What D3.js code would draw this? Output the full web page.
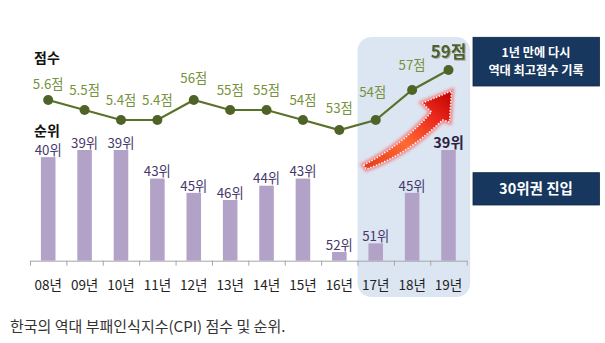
<!DOCTYPE html>
<html>
<head>
<meta charset="utf-8">
<script src="https://cdn.jsdelivr.net/npm/d3@7"></script>
<style>
  html, body { margin: 0; padding: 0; background: #fff; }
  svg { display: block; font-family: "Noto Sans CJK KR", "Noto Sans", sans-serif; }
</style>
</head>
<body>
<svg id="chart" width="605" height="343"></svg>
<script>
// Korea's Corruption Perceptions Index (CPI): score and world rank by year
const years = ["08년", "09년", "10년", "11년", "12년", "13년", "14년", "15년", "16년", "17년", "18년", "19년"];
// scores up to 2011 were published on a 10-point scale, from 2012 on a 100-point scale
const scores = [5.6, 5.5, 5.4, 5.4, 56, 55, 55, 54, 53, 54, 57, 59];
const ranks = [40, 39, 39, 43, 45, 46, 44, 43, 52, 51, 45, 39];
const note1 = ["1년 만에 다시", "역대 최고점수 기록"];
const note2 = "30위권 진입";
const caption = "한국의 역대 부패인식지수(CPI) 점수 및 순위.";

const svg = d3.select("#chart");
const defs = svg.append("defs");

const left = 30, right = 466.7, baseY = 260.7;
const n = years.length;

const x = d3.scaleBand().domain(years).range([left, right]).paddingInner(0.6).paddingOuter(0.3);
const cx = d => x(d) + x.bandwidth() / 2;
const cell = d3.scaleLinear().domain([0, n]).range([left, right]);

// better rank -> taller bar
const yRank = d3.scaleLinear().domain([53, 46, 39]).range([baseY, 200, 150]);
const score100 = v => (v < 10 ? v * 10 : v);
const yScore = d3.scaleLinear().domain([53, 59]).range([130, 70]);

// highlighted recent years
const hiStart = years.indexOf("17년");
svg.append("rect")
  .attr("x", cell(hiStart)).attr("y", 37)
  .attr("width", right - cell(hiStart) + 3.5).attr("height", 260)
  .attr("rx", 14).attr("fill", "#dce6f2");

// axis: boundary ticks
svg.append("g")
  .attr("transform", `translate(0,${baseY})`)
  .call(d3.axisBottom(cell).ticks(n).tickFormat("").tickSizeInner(5).tickSizeOuter(0))
  .call(g => g.selectAll("path, line").attr("stroke", "#a6a6a6"));

// year labels
svg.append("g")
  .attr("transform", `translate(0,${baseY})`)
  .call(d3.axisBottom(x).tickSize(0).tickPadding(20))
  .call(g => g.select(".domain").remove())
  .call(g => g.selectAll("text")
    .attr("font-family", "'Noto Sans CJK KR', sans-serif")
    .attr("font-size", 13.5).attr("fill", "#222"));

// rank bars
const data = years.map((y, i) => ({ year: y, score: scores[i], rank: ranks[i], i }));
svg.append("g").selectAll("rect").data(data).join("rect")
  .attr("x", d => x(d.year)).attr("width", x.bandwidth())
  .attr("y", d => yRank(d.rank)).attr("height", d => baseY - yRank(d.rank))
  .attr("fill", "#b3a2c7");

const last = n - 1;
svg.append("g").selectAll("text").data(data).join("text")
  .attr("x", d => cx(d.year))
  .attr("y", d => yRank(d.rank) - 7)
  .attr("dy", "0.35em")
  .attr("text-anchor", "middle")
  .attr("font-size", d => d.i === last ? 14.5 : 13.3)
  .attr("font-weight", d => d.i === last ? 700 : 400)
  .attr("fill", d => d.i === last ? "#2d2140" : "#47386a")
  .text(d => d.rank + "위");

// score line
const line = d3.line().x(d => cx(d.year)).y(d => yScore(score100(d.score)));
svg.append("path").datum(data)
  .attr("d", line).attr("fill", "none")
  .attr("stroke", "#5a7228").attr("stroke-width", 2.2);
svg.append("g").selectAll("circle").data(data).join("circle")
  .attr("cx", d => cx(d.year)).attr("cy", d => yScore(score100(d.score)))
  .attr("r", 5).attr("fill", "#4f6228");

// score labels
const labelShift = { 0: [0, -16], 4: [0, -22], 8: [0, -22], 9: [-3, -28], 10: [0, -25], 11: [0, -18] };
const shadow = defs.append("filter").attr("id", "tshadow");
shadow.append("feDropShadow").attr("dx", 1).attr("dy", 1).attr("stdDeviation", 0.6)
  .attr("flood-color", "#9a9a9a").attr("flood-opacity", 0.8);

svg.append("g").selectAll("text").data(data).join("text")
  .attr("x", d => cx(d.year) + (labelShift[d.i] ? labelShift[d.i][0] : 0))
  .attr("y", d => yScore(score100(d.score)) + (labelShift[d.i] ? labelShift[d.i][1] : -20))
  .attr("dy", "0.35em")
  .attr("text-anchor", "middle")
  .attr("font-size", d => d.i === last ? 17 : 13.3)
  .attr("font-weight", d => d.i === last ? 700 : 400)
  .attr("fill", d => d.i === last ? "#4f6228" : "#76923c")
  .attr("filter", d => d.i === last ? "url(#tshadow)" : null)
  .text(d => d.score + "점");

// series titles
svg.append("text").attr("x", 34).attr("y", 58).attr("dy", "0.35em")
  .attr("font-size", 14).attr("font-weight", 700).attr("fill", "#111").text("점수");
svg.append("text").attr("x", 34).attr("y", 131).attr("dy", "0.35em")
  .attr("font-size", 14).attr("font-weight", 700).attr("fill", "#111").text("순위");

// rising arrow over the recent years
const grad = defs.append("linearGradient").attr("id", "arrowFill")
  .attr("x1", "0%").attr("y1", "100%").attr("x2", "100%").attr("y2", "0%");
grad.append("stop").attr("offset", "0%").attr("stop-color", "#e23a1a");
grad.append("stop").attr("offset", "40%").attr("stop-color", "#ff6a35");
grad.append("stop").attr("offset", "75%").attr("stop-color", "#e8261a");
grad.append("stop").attr("offset", "100%").attr("stop-color", "#c00000");
const glow = defs.append("filter").attr("id", "glow").attr("x", "-20%").attr("y", "-20%").attr("width", "140%").attr("height", "140%");
glow.append("feGaussianBlur").attr("stdDeviation", 1.6);

const ax = cell(hiStart), ay = yScore(53);
const arrow = d3.path();
arrow.moveTo(6, 35);
arrow.quadraticCurveTo(45, 15, 74, -18);
arrow.lineTo(65, -27);
arrow.lineTo(94, -39);
arrow.lineTo(92, -8);
arrow.lineTo(85, -10);
arrow.quadraticCurveTo(48, 26, 9, 39);
arrow.closePath();
const ag = svg.append("g").attr("transform", `translate(${ax},${ay})`);
ag.append("path").attr("d", arrow.toString())
  .attr("fill", "none").attr("stroke", "#ff3b3b").attr("stroke-width", 5)
  .attr("stroke-opacity", 0.55).attr("filter", "url(#glow)");
ag.append("path").attr("d", arrow.toString())
  .attr("fill", "url(#arrowFill)")
  .attr("stroke", "#fff").attr("stroke-width", 1.6)
  .attr("stroke-dasharray", "1.3 1.7").attr("stroke-linejoin", "round");

// callout boxes
function callout(y0, h, lines, size, gap) {
  svg.append("rect").attr("x", 473).attr("y", y0).attr("width", 126.5).attr("height", h)
    .attr("fill", "#17375e").attr("stroke", "#0f2744").attr("stroke-width", 0.8);
  const mid = y0 + h / 2;
  lines.forEach((t, k) => {
    svg.append("text")
      .attr("x", 536).attr("y", mid + (k - (lines.length - 1) / 2) * gap)
      .attr("dy", "0.35em").attr("text-anchor", "middle")
      .attr("font-size", size).attr("font-weight", 700).attr("fill", "#fff")
      .text(t);
  });
}
callout(37.3, 48.7, note1, 12.2, 17.8);
callout(172.7, 32.3, [note2], 14.5, 0);

// caption
svg.append("text").attr("x", 10).attr("y", 327).attr("dy", "0.35em")
  .attr("font-size", 15).attr("fill", "#333").text(caption);
</script>
</body>
</html>
